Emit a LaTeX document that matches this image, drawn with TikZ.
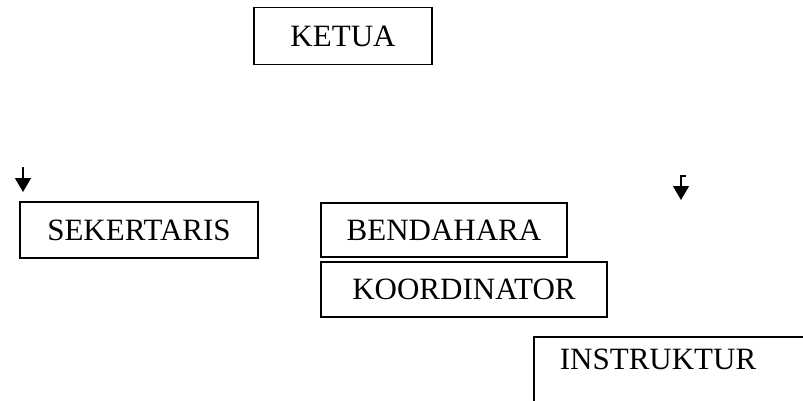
\documentclass[tikz,border=0pt]{standalone}
\usepackage{fontspec}
\setmainfont{Liberation Serif}
\usetikzlibrary{arrows.meta}
\begin{document}
\begin{tikzpicture}[x=0.5pt,y=-0.5pt,
	jabatan/.style={draw, line width=0.9pt, inner sep=0pt, font=\fontsize{15.5}{18}\selectfont},
	panah/.style={-{Triangle[width=8pt,length=7pt]}, line width=0.6pt}]
	\clip (0,0) rectangle (803,401);
	\node[jabatan, minimum width=89pt, minimum height=28.5pt] (K) at (343,36) {KETUA};
	\node[jabatan, minimum width=119pt, minimum height=28pt] (S) at (139,230) {SEKERTARIS};
	\node[jabatan, minimum width=123pt, minimum height=27pt] (B) at (444,230) {BENDAHARA};
	\node[jabatan, minimum width=143pt, minimum height=27.5pt] (KO) at (464,289.5) {KOORDINATOR};
	\node[jabatan, anchor=north west, inner xsep=13pt, inner ysep=6pt, text depth=40pt, text width=180pt, align=left] (I) at (533,336) {INSTRUKTUR};

	\coordinate (L1) at (23,167);
	\coordinate (L2) at (23,192);
	\coordinate (R0) at (686,176);
	\coordinate (R1) at (681,176);
	\coordinate (R2) at (681,200);

	\draw [panah] (L1) -- (L2);
	\draw [panah] (R0) -- (R1) -- (R2);
\end{tikzpicture}
\end{document}
